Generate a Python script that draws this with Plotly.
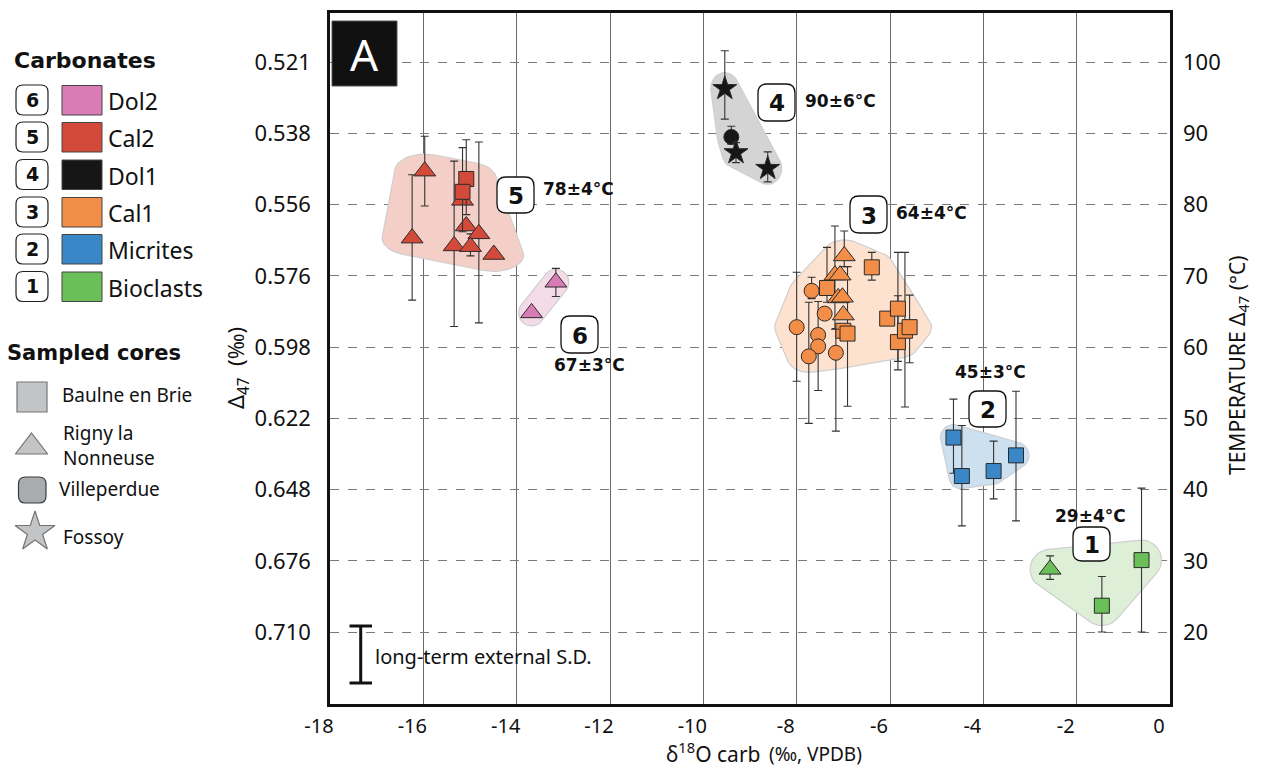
import numpy as np
import plotly.graph_objects as go

W, H = 1262, 769
PL, PR, PT, PB = 330, 1170, 13, 704          # plot area in px
XMIN, XMAX = -18, 0
TMIN, TMAX = 9.9, 106.9

# ---------------- axis tick labels ----------------
x_ticks = [-18, -16, -14, -12, -10, -8, -6, -4, -2, 0]
x_ticktext = ["-18", "-16", "-14", "-12", "-10", "-8", "-6", "-4", "-2", "0"]
temp_ticks = [100, 90, 80, 70, 60, 50, 40, 30, 20]
d47_ticktext = ["0.521", "0.538", "0.556", "0.576", "0.598", "0.622", "0.648", "0.676", "0.710"]
temp_ticktext = ["100", "90", "80", "70", "60", "50", "40", "30", "20"]

# ---------------- data (x = d18O carb, T = temperature from D47) ----------------
# 6 Dol2 - Rigny la Nonneuse (triangles)
dol2_tri_x = [-13.16, -13.68]
dol2_tri_T = [69.1, 64.8]
dol2_tri_up = [1.95, 0]
dol2_tri_dn = [2.0, 0]

# 5 Cal2
cal2_sq_x = [-15.08, -15.16]
cal2_sq_T = [83.6, 81.8]
cal2_sq_up = [5.5, 6.2]
cal2_sq_dn = [5.0, 5.6]
cal2_tri_x = [-15.97, -16.24, -15.16, -15.08, -14.81, -15.34, -14.99, -14.49]
cal2_tri_T = [84.7, 75.3, 80.6, 77.0, 75.9, 74.2, 74.1, 73.0]
cal2_tri_up = [4.9, 8.9, 0, 0, 12.9, 11.9, 1.8, 0]
cal2_tri_dn = [4.9, 8.7, 0, 0, 12.5, 11.3, 1.3, 0]

# 4 Dol1
dol1_star_x = [-9.54, -9.30, -8.62]
dol1_star_T = [96.3, 87.3, 85.1]
dol1_star_up = [5.3, 1.4, 2.3]
dol1_star_dn = [4.3, 1.4, 1.9]
dol1_circ_x = [-9.40]
dol1_circ_T = [89.5]
dol1_circ_up = [1.5]
dol1_circ_dn = [1.0]

# 3 Cal1
cal1_circ_x = [-8.00, -7.68, -7.40, -7.54, -7.54, -7.74, -7.16]
cal1_circ_T = [62.8, 67.9, 64.7, 61.7, 60.1, 58.7, 59.2]
cal1_circ_up = [7.7, 1.9, 0, 4.7, 0, 7.6, 3.4]
cal1_circ_dn = [7.6, 1.1, 0, 7.8, 0, 9.4, 11.0]
cal1_sq_x = [-7.35, -6.39, -7.00, -6.91, -6.06, -5.83, -5.83, -5.68, -5.58]
cal1_sq_T = [68.3, 71.2, 62.3, 61.9, 64.0, 65.4, 60.7, 62.3, 62.8]
cal1_sq_up = [5.7, 2.1, 0, 9.4, 0, 7.9, 6.5, 11.0, 4.5]
cal1_sq_dn = [2.0, 1.8, 0, 10.2, 0, 8.6, 2.7, 10.7, 5.0]
cal1_tri_x = [-6.98, -7.18, -7.07, -7.11, -7.02, -7.00]
cal1_tri_T = [72.8, 70.1, 70.1, 66.9, 67.0, 64.5]
cal1_tri_up = [3.5, 6.9, 0, 0, 0, 0]
cal1_tri_dn = [1.5, 7.6, 0, 0, 0, 0]

# 2 Micrites
mic_sq_x = [-4.64, -4.46, -3.78, -3.30]
mic_sq_T = [47.3, 41.9, 42.6, 44.8]
mic_sq_up = [5.4, 7.1, 4.2, 9.0]
mic_sq_dn = [5.0, 7.0, 3.9, 9.2]

# 1 Bioclasts
bio_tri_x = [-2.57]
bio_tri_T = [28.8]
bio_tri_up = [1.9]
bio_tri_dn = [1.4]
bio_sq_x = [-1.46, -0.61]
bio_sq_T = [23.7, 30.1]
bio_sq_up = [4.1, 10.1]
bio_sq_dn = [3.7, 10.1]

groups = ["Dol2", "Cal2", "Dol1", "Cal1", "Micrites", "Bioclasts"]
group_nums = ["6", "5", "4", "3", "2", "1"]
group_temps = ["67±3°C", "78±4°C", "90±6°C", "64±4°C", "45±3°C", "29±4°C"]
sites = ["Baulne en Brie", "Rigny la<br>Nonneuse", "Villeperdue", "Fossoy"]

col = {"Dol2": "#d97bb5", "Cal2": "#d44a3a", "Dol1": "#161616",
       "Cal1": "#f28e47", "Micrites": "#3a87c8", "Bioclasts": "#6abf58"}
blobcol = {"Dol2": "#f4dbe8", "Cal2": "#f3cfc7", "Dol1": "#d4d4d4",
           "Cal1": "#fde2d0", "Micrites": "#cde0f0", "Bioclasts": "#ddefd7"}
GRAY = "#a9acae"


# ---------------- helpers ----------------
def to_px(x, t):
    return (PL + (x - XMIN) / (XMAX - XMIN) * (PR - PL),
            PT + (TMAX - t) / (TMAX - TMIN) * (PB - PT))


def from_px(px, py):
    return (XMIN + (px - PL) / (PR - PL) * (XMAX - XMIN),
            TMAX - (py - PT) / (PB - PT) * (TMAX - TMIN))


def hull(points):
    pts = sorted(set(points))
    def cross(o, a, b):
        return (a[0]-o[0])*(b[1]-o[1]) - (a[1]-o[1])*(b[0]-o[0])
    lower, upper = [], []
    for p in pts:
        while len(lower) >= 2 and cross(lower[-2], lower[-1], p) <= 0:
            lower.pop()
        lower.append(p)
    for p in reversed(pts):
        while len(upper) >= 2 and cross(upper[-2], upper[-1], p) <= 0:
            upper.pop()
        upper.append(p)
    return lower[:-1] + upper[:-1]


def blob(xs, ts, rx, ry, n=36):
    pts = []
    for x, t in zip(xs, ts):
        px, py = to_px(x, t)
        for k in range(n):
            a = 2 * np.pi * k / n
            pts.append((round(px + rx * np.cos(a), 3), round(py + ry * np.sin(a), 3)))
    h = hull(pts)
    h.append(h[0])
    out = [from_px(p, q) for p, q in h]
    return [o[0] for o in out], [o[1] for o in out]


def P(px, py):
    return f"{px / W:.5f},{1 - py / H:.5f}"


def rrect(x0, y0, x1, y1, r):
    return ("M" + P(x0 + r, y0) + " L" + P(x1 - r, y0) + " Q" + P(x1, y0) + " " + P(x1, y0 + r) +
            " L" + P(x1, y1 - r) + " Q" + P(x1, y1) + " " + P(x1 - r, y1) +
            " L" + P(x0 + r, y1) + " Q" + P(x0, y1) + " " + P(x0, y1 - r) +
            " L" + P(x0, y0 + r) + " Q" + P(x0, y0) + " " + P(x0 + r, y0) + " Z")


def label(px, py, text, size, family="Noto Sans", xanchor="center", color="#111", angle=0,
          align="left"):
    return dict(xref="paper", yref="paper", x=px / W, y=1 - py / H, text=text, showarrow=False,
                xanchor=xanchor, yanchor="middle", textangle=angle, align=align,
                font=dict(family=family, size=size, color=color))


fig = go.Figure()

# ---------------- cluster envelopes ----------------
clusters = [
    ("Cal2", cal2_sq_x + cal2_tri_x, cal2_sq_T + cal2_tri_T, 30, 17),
    ("Dol2", dol2_tri_x, dol2_tri_T, 13, 13),
    ("Dol1", dol1_star_x + dol1_circ_x, dol1_star_T + dol1_circ_T, 14, 16),
    ("Cal1", cal1_circ_x + cal1_sq_x + cal1_tri_x, cal1_circ_T + cal1_sq_T + cal1_tri_T, 22, 16),
    ("Micrites", mic_sq_x, mic_sq_T, 13, 13),
    ("Bioclasts", bio_tri_x + bio_sq_x, bio_tri_T + bio_sq_T, 20, 20),
]
for g, xs, ts, rx, ry in clusters:
    bx, bt = blob(xs, ts, rx, ry)
    fig.add_trace(go.Scatter(x=bx, y=bt, mode="lines", fill="toself",
                             fillcolor=blobcol[g], line=dict(color="#cfcfcf", width=1.2),
                             hoverinfo="skip", showlegend=False))

# ---------------- data points ----------------
SIZES = {"square": 15, "triangle-up": 19, "circle": 15, "star": 18}


def pts(g, sym, xs, ts, up, dn):
    fig.add_trace(go.Scatter(
        x=xs, y=ts, mode="markers", name=g, showlegend=False,
        marker=dict(symbol=sym, size=SIZES[sym], color=col[g],
                    line=dict(color="#2a2a2a", width=1)),
        error_y=dict(type="data", symmetric=False, array=up, arrayminus=dn,
                     color="#333333", thickness=1.1, width=4),
        cliponaxis=False))


pts("Cal2", "triangle-up", cal2_tri_x, cal2_tri_T, cal2_tri_up, cal2_tri_dn)
pts("Cal2", "square", cal2_sq_x, cal2_sq_T, cal2_sq_up, cal2_sq_dn)
pts("Dol2", "triangle-up", dol2_tri_x, dol2_tri_T, dol2_tri_up, dol2_tri_dn)
pts("Dol1", "circle", dol1_circ_x, dol1_circ_T, dol1_circ_up, dol1_circ_dn)
pts("Dol1", "star", dol1_star_x, dol1_star_T, dol1_star_up, dol1_star_dn)
pts("Cal1", "circle", cal1_circ_x, cal1_circ_T, cal1_circ_up, cal1_circ_dn)
pts("Cal1", "square", cal1_sq_x, cal1_sq_T, cal1_sq_up, cal1_sq_dn)
pts("Cal1", "triangle-up", cal1_tri_x, cal1_tri_T, cal1_tri_up, cal1_tri_dn)
pts("Micrites", "square", mic_sq_x, mic_sq_T, mic_sq_up, mic_sq_dn)
pts("Bioclasts", "triangle-up", bio_tri_x, bio_tri_T, bio_tri_up, bio_tri_dn)
pts("Bioclasts", "square", bio_sq_x, bio_sq_T, bio_sq_up, bio_sq_dn)

# dummy trace so the right axis renders
fig.add_trace(go.Scatter(x=[None], y=[None], yaxis="y2", showlegend=False, hoverinfo="skip"))

# ---------------- legend symbols (pixel axis on the left) ----------------
site_symbols = ["square", "triangle-up", None, "star"]
site_sym_px = [(32, 397, 30), (31.5, 447, 28), None, (35, 532, 30)]
lx, ly, ls, lsym = [], [], [], []
for s, p in zip(site_symbols, site_sym_px):
    if s is None:
        continue
    lx.append(p[0]); ly.append(p[1]); ls.append(p[2]); lsym.append(s)
fig.add_trace(go.Scatter(x=lx, y=ly, mode="markers", xaxis="x3", yaxis="y3",
                         marker=dict(symbol=lsym, size=ls, color=GRAY,
                                     line=dict(color="#3a3a3a", width=1.2)),
                         showlegend=False, hoverinfo="skip", cliponaxis=False))

shapes = []
ann = []

# legend: carbonates
row_y = [100, 137, 174.5, 212, 249, 286.5]
for g, num, yc in zip(groups, group_nums, row_y):
    shapes.append(dict(type="path", xref="paper", yref="paper", path=rrect(16, yc - 15, 48, yc + 15, 7),
                       fillcolor="white", line=dict(color="#222", width=1.2)))
    shapes.append(dict(type="rect", xref="paper", yref="paper",
                       x0=62 / W, x1=102 / W, y0=1 - (yc - 14.5) / H, y1=1 - (yc + 15) / H,
                       fillcolor=col[g], line=dict(color="#444", width=1)))
    ann.append(label(32, yc, "<b>" + num + "</b>", 19, "DejaVu Sans"))
    ann.append(label(106, yc + 1, g, 23, "Noto Sans", xanchor="left"))

ann.append(label(12, 60, "<b>Carbonates</b>", 22, "DejaVu Sans", xanchor="left"))
ann.append(label(5, 353, "<b>Sampled cores</b>", 21, "DejaVu Sans", xanchor="left"))

# Villeperdue rounded-square symbol
shapes.append(dict(type="path", xref="paper", yref="paper", path=rrect(18.5, 477, 46, 503, 7),
                   fillcolor=GRAY, line=dict(color="#3a3a3a", width=1.2)))
site_text_px = [(60, 395), (61, 445), (57, 489), (61, 537)]
for s, (tx, ty) in zip(sites, site_text_px):
    ann.append(label(tx, ty, s, 19, "Noto Sans", xanchor="left"))

# in-plot cluster labels
box_px = {"6": (561, 316, 598, 353), "5": (497, 177, 534, 213), "4": (758, 84, 795, 121),
          "3": (850, 196, 887, 233), "2": (969, 391, 1006, 427), "1": (1073, 527, 1110, 561)}
temp_px = {"6": (589, 365), "5": (578, 189), "4": (840, 101),
           "3": (931, 213), "2": (990, 372), "1": (1090, 516)}
for num, tlab in zip(group_nums, group_temps):
    x0, y0, x1, y1 = box_px[num]
    shapes.append(dict(type="path", xref="paper", yref="paper", path=rrect(x0, y0, x1, y1, 9),
                       fillcolor="white", line=dict(color="#111", width=1.3)))
    ann.append(label((x0 + x1) / 2, (y0 + y1) / 2 + 1, "<b>" + num + "</b>", 23, "DejaVu Sans"))
    tx, ty = temp_px[num]
    ann.append(label(tx, ty, "<b>" + tlab + "</b>", 17, "DejaVu Sans"))

# panel letter
shapes.append(dict(type="rect", xref="paper", yref="paper", x0=332 / W, x1=397 / W,
                   y0=1 - 21 / H, y1=1 - 86 / H, fillcolor="#111", line=dict(color="#555", width=1)))
ann.append(label(364.5, 54, "A", 44, "Noto Sans", color="white"))

# long-term external S.D. box
shapes.append(dict(type="rect", xref="paper", yref="paper", layer="between",
                   x0=343 / W, x1=607 / W, y0=1 - 620 / H, y1=1 - 690 / H,
                   fillcolor="white", line=dict(width=0)))
for (xa, ya, xb, yb) in [(360.7, 626, 360.7, 683), (349.5, 626, 372, 626), (349.5, 683, 372, 683)]:
    shapes.append(dict(type="line", xref="paper", yref="paper", x0=xa / W, y0=1 - ya / H,
                       x1=xb / W, y1=1 - yb / H, line=dict(color="#111", width=3)))
ann.append(label(373, 656, "long-term external S.D.", 20, "Noto Sans", xanchor="left"))

# axis titles
ann.append(label(762, 752, "δ<sup>18</sup>O carb", 21, "Noto Sans", xanchor="right"))
ann.append(label(767, 754, "(‰, VPDB)", 19, "Noto Sans", xanchor="left"))
ann.append(label(237, 368, "Δ<sub>47</sub>  (‰)", 22, "Noto Sans", angle=-90))
ann.append(label(1238, 365, "TEMPERATURE Δ<sub>47</sub> (°C)", 21, "Noto Sans", angle=-90))

tickfont = dict(family="Noto Sans", size=22, color="#111")
fig.update_layout(
    width=W, height=H, autosize=False,
    margin=dict(l=0, r=0, t=0, b=0),
    paper_bgcolor="white", plot_bgcolor="white",
    showlegend=False,
    xaxis=dict(domain=[PL / W, PR / W], range=[XMIN, XMAX], tickmode="array",
               tickvals=x_ticks, ticktext=x_ticktext, ticks="", showgrid=True,
               gridcolor="#6a6a6a", gridwidth=1, zeroline=False, showline=True, mirror=True,
               linecolor="#111", linewidth=2.5, ticklabelshift=-11, ticklabelstandoff=2,
               tickfont=dict(family="Noto Sans", size=20, color="#111"), automargin=False,
               anchor="y"),
    yaxis=dict(domain=[1 - PB / H, 1 - PT / H], range=[TMIN, TMAX], tickmode="array",
               tickvals=temp_ticks, ticktext=d47_ticktext, ticks="", showgrid=True,
               gridcolor="#7a7a7a", gridwidth=1, griddash="dash", zeroline=False,
               showline=True, mirror=True, linecolor="#111", linewidth=2.5,
               ticklabelstandoff=12, tickfont=tickfont, automargin=False, anchor="x"),
    yaxis2=dict(overlaying="y", side="right", anchor="x", range=[TMIN, TMAX], tickmode="array",
                tickvals=temp_ticks, ticktext=temp_ticktext, ticks="", showgrid=False,
                zeroline=False, showline=False, ticklabelstandoff=12, tickfont=tickfont,
                automargin=False),
    xaxis3=dict(domain=[0, 0.2], range=[0, 0.2 * W], visible=False, anchor="y3"),
    yaxis3=dict(domain=[0, 1], range=[H, 0], visible=False, anchor="x3"),
    shapes=shapes,
    annotations=ann,
)

fig.write_html("out.html", config={"displayModeBar": False},
               post_script="document.body.style.margin='0';document.body.style.overflow='hidden';")
